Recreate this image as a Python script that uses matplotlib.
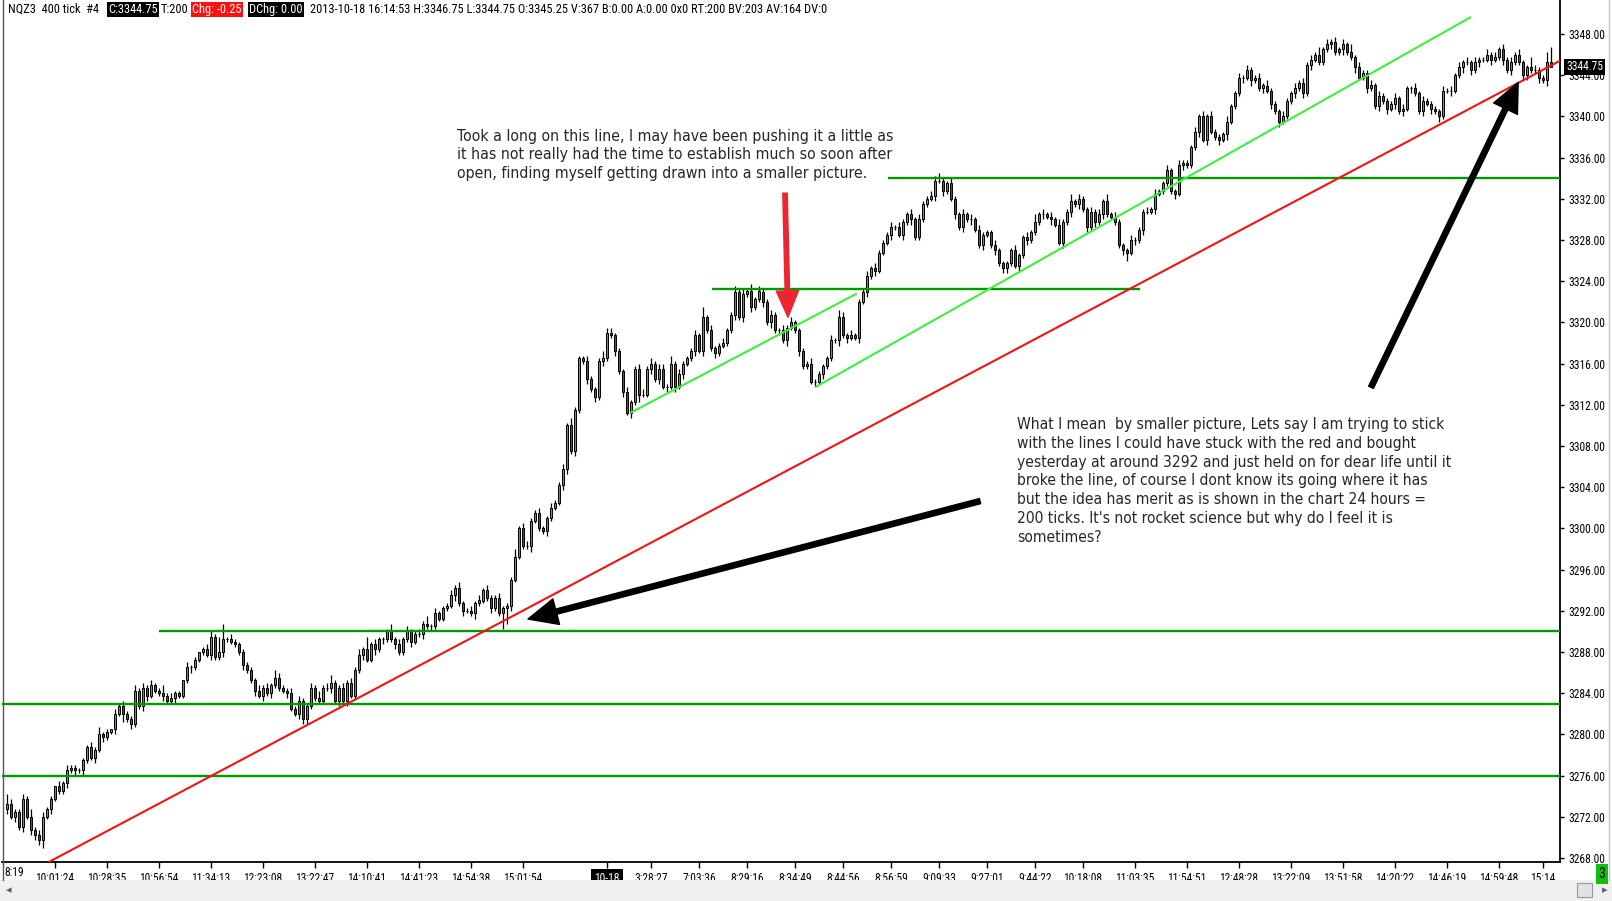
import matplotlib
matplotlib.use('Agg')
import matplotlib.pyplot as plt
from matplotlib import font_manager as fm
from matplotlib.patches import Rectangle
from matplotlib.lines import Line2D
import numpy as np

W, H, DPI = 1612, 901, 100

# ---------------- data ----------------
first_open = 3272.75
closes = [
    3273.25, 3272.0, 3272.5, 3271.0, 3273.75, 3272.0, 3270.75, 3270.25, 3269.75, 3272.0,
    3272.75, 3273.75, 3275.0, 3274.5, 3275.25, 3276.5, 3276.75, 3276.5, 3276.5, 3277.5,
    3278.75, 3277.75, 3278.5, 3280.0, 3279.75, 3280.25, 3280.5, 3282.0, 3282.75, 3282.0,
    3281.5, 3281.0, 3284.25, 3282.75, 3284.5, 3283.75, 3284.75, 3284.25, 3284.0, 3283.75,
    3283.25, 3283.5, 3284.0, 3283.75, 3285.25, 3286.5, 3286.5, 3287.25, 3288.0, 3288.25,
    3287.75, 3289.5, 3287.5, 3288.0, 3289.25, 3289.25, 3289.0, 3288.75, 3288.0, 3286.75,
    3286.25, 3285.25, 3284.25, 3283.75, 3284.5, 3284.0, 3284.75, 3285.5, 3284.5, 3284.25,
    3284.0, 3282.5, 3282.0, 3283.25, 3281.5, 3282.75, 3284.5, 3283.5, 3283.25, 3284.5,
    3284.5, 3285.0, 3283.25, 3284.5, 3283.25, 3285.0, 3283.75, 3286.25, 3287.75, 3288.25,
    3287.25, 3288.75, 3288.25, 3289.25, 3289.25, 3290.0, 3289.25, 3288.75, 3288.0, 3289.25,
    3290.0, 3289.0, 3289.75, 3289.75, 3290.75, 3290.5, 3290.5, 3291.75, 3291.25, 3292.25,
    3292.5, 3293.5, 3294.25, 3292.75, 3292.0, 3292.0, 3291.75, 3292.75, 3293.0, 3294.0,
    3293.25, 3292.25, 3293.25, 3291.75, 3292.25, 3292.5, 3295.0, 3297.25, 3300.0, 3298.25,
    3298.25, 3300.75, 3301.5, 3300.0, 3299.75, 3301.0, 3302.0, 3302.5, 3304.25, 3305.75,
    3310.0, 3307.5, 3311.5, 3316.5, 3316.25, 3314.5, 3313.5, 3312.75, 3316.25, 3316.5,
    3319.0, 3318.75, 3317.25, 3315.25, 3313.25, 3311.25, 3312.25, 3315.5, 3313.0, 3313.0,
    3315.5, 3316.0, 3314.5, 3315.5, 3313.75, 3313.75, 3316.0, 3313.75, 3315.0, 3316.0,
    3316.5, 3317.25, 3318.75, 3317.25, 3320.5, 3319.25, 3317.5, 3317.0, 3317.75, 3318.0,
    3319.25, 3320.75, 3323.0, 3320.5, 3322.75, 3323.0, 3321.5, 3322.25, 3323.0, 3322.0,
    3320.0, 3320.75, 3319.25, 3319.25, 3318.25, 3319.5, 3320.0, 3319.25, 3317.25, 3315.75,
    3316.0, 3314.25, 3314.25, 3315.0, 3315.75, 3316.5, 3318.25, 3318.25, 3320.5, 3318.75,
    3318.5, 3318.75, 3318.5, 3322.0, 3323.0, 3324.5, 3325.25, 3325.0, 3326.75, 3327.75,
    3328.5, 3329.25, 3329.25, 3328.5, 3329.75, 3330.5, 3330.0, 3328.25, 3330.0, 3331.5,
    3332.0, 3332.25, 3333.75, 3333.75, 3332.75, 3333.5, 3332.0, 3330.5, 3329.25, 3330.5,
    3330.0, 3330.0, 3329.0, 3327.5, 3328.5, 3328.75, 3327.5, 3327.0, 3325.75, 3325.25,
    3325.75, 3327.0, 3325.5, 3326.5, 3328.25, 3328.0, 3328.75, 3329.75, 3330.5, 3330.5,
    3330.25, 3330.0, 3329.5, 3327.75, 3329.75, 3330.75, 3331.75, 3331.5, 3332.0, 3331.0,
    3329.25, 3330.75, 3329.75, 3330.5, 3331.75, 3330.5, 3330.25, 3329.75, 3327.5, 3327.0,
    3326.75, 3328.0, 3328.0, 3329.0, 3330.75, 3330.75, 3331.0, 3332.5, 3332.75, 3333.5,
    3334.75, 3332.75, 3332.5, 3335.25, 3335.5, 3335.25, 3337.0, 3338.5, 3340.0, 3337.75,
    3340.0, 3338.5, 3338.0, 3337.75, 3338.25, 3339.5, 3341.0, 3342.25, 3343.75, 3343.75,
    3344.5, 3343.5, 3343.75, 3342.75, 3343.0, 3342.5, 3341.25, 3340.5, 3339.5, 3340.0,
    3341.5, 3342.25, 3342.75, 3343.25, 3342.25, 3345.0, 3345.5, 3346.0, 3345.25, 3346.5,
    3347.0, 3347.25, 3346.25, 3346.5, 3347.0, 3346.25, 3345.75, 3344.75, 3343.75, 3344.25,
    3342.75, 3343.0, 3341.0, 3342.0, 3341.5, 3340.75, 3341.25, 3341.75, 3340.5, 3340.75,
    3342.75, 3342.75, 3342.25, 3340.5, 3341.5, 3341.25, 3340.75, 3340.5, 3340.0, 3342.5,
    3342.5, 3342.5, 3344.0, 3344.75, 3345.25, 3345.25, 3344.5, 3345.25, 3345.5, 3345.5,
    3346.0, 3345.5, 3345.75, 3346.5, 3345.5, 3344.5, 3345.25, 3346.0, 3345.25, 3344.0,
    3344.75, 3344.5, 3344.5, 3343.75, 3343.5, 3345.25, 3344.75,
]
# wick lengths in ticks (0.25) above / below the body, ten bars per chunk
upper_wick_ticks = [
    "4211213122", "1102121111", "1213110212", "1121212113", "1211021101",
    "2216612111", "1112121321", "1212112131", "2311212121", "5121113121",
    "2112131211", "1212112121", "2112111312", "2112112112", "1311121113",
    "2211121122", "1212213121", "1121412112", "1121213121", "1211212111",
    "1211112132", "1211121211", "1212112121", "1223112112", "1212111211",
    "1121121312", "1212113121", "1212131211", "1211121211", "2112111212",
    "1211121121", "2112121112", "1121212131", "2121213121", "1212111212",
    "1121211112", "1212121211", "2121212121", "1421146",
]
lower_wick_ticks = [
    "2121212223", "1211121212", "1121211213", "1211221112", "1121112111",
    "1211211112", "1121212111", "2112221111", "1212121112", "1121211211",
    "1211212111", "1121211211", "1211662111", "1211121112", "2121121212",
    "1121212131", "1212121212", "1121211211", "1121212112", "1212121121",
    "1121211121", "2112121211", "1211212111", "1121211212", "1211211212",
    "2112121112", "1211212121", "2121211112", "3121211211", "1121211121",
    "2112121112", "1211212121", "1121212111", "1211211211", "2112121212",
    "1211212121", "1211212121", "1211212112", "2112120",
]
tick_bars = [12, 25, 38, 51, 64, 77, 90, 103, 116, 129, 150, 161, 173, 185, 197,
             209, 221, 233, 245, 257, 269, 282, 295, 308, 321, 334, 347, 360, 373, 384]
tick_labels = ["10:01:24", "10:28:35", "10:56:54", "11:34:13", "12:23:08", "13:22:47",
               "14:10:41", "14:41:23", "14:54:38", "15:01:54", "10-18", "3:28:27",
               "7:03:36", "8:29:16", "8:34:49", "8:44:56", "8:56:59", "9:09:33",
               "9:27:01", "9:44:22", "10:18:08", "11:03:35", "11:54:51", "12:48:28",
               "13:22:09", "13:51:58", "14:20:22", "14:46:19", "14:59:48", "15:14"]
price_ticks = list(range(3268, 3349, 4))
# horizontal support / resistance levels: price, start bar, end bar
level_prices = [3276.0, 3283.0, 3290.0, 3323.25, 3334.0]
level_starts = [-1.25, -1.25, 38.0, 176.25, 220.25]
level_ends = [388.25, 388.25, 388.25, 283.25, 388.25]
# trend lines (bar, price) endpoints
red_trend_bars = [10.4, 388.25]
red_trend_prices = [3267.6, 3345.4]
lime1_bars = [156.0, 212.2]
lime1_prices = [3311.25, 3322.75]
lime2_bars = [202.25, 365.75]
lime2_prices = [3313.75, 3349.6]
# arrows: tail (bar, price) -> tip (bar, price)
black_arrow_tails = [(243.25, 3302.65), (341.0, 3313.7)]
black_arrow_tips = [(130.25, 3291.2), (377.8, 3343.3)]
red_arrow_tail = (194.5, 3332.55)
red_arrow_tip = (195.25, 3320.5)
last_price = "3344.75"

note1 = ["Took a long on this line, I may have been pushing it a little as",
         "it has not really had the time to establish much so soon after",
         "open, finding myself getting drawn into a smaller picture."]
note2 = ["What I mean  by smaller picture, Lets say I am trying to stick",
         "with the lines I could have stuck with the red and bought",
         "yesterday at around 3292 and just held on for dear life until it",
         "broke the line, of course I dont know its going where it has",
         "but the idea has merit as is shown in the chart 24 hours =",
         "200 ticks. It's not rocket science but why do I feel it is",
         "sometimes?"]

# ---------------- fonts ----------------
def find_condensed(prefs):
    """Return path of an installed narrow/condensed regular sans face, or None."""
    found = {}
    for f in fm.fontManager.ttflist:
        name = f.name.lower()
        stretch = str(f.stretch).lower()
        is_narrow = ('narrow' in name or 'condensed' in name or
                     stretch in ('condensed', 'semi-condensed', 'extra-condensed'))
        w = f.weight
        regular = (w in (400, 'normal', 'regular', 'book')) and f.style == 'normal'
        if is_narrow and regular:
            found.setdefault(name, f.fname)
    for p in prefs:
        for name, path in found.items():
            if p in name:
                return path
    return None

narrow_path = find_condensed(['liberation sans narrow', 'roboto condensed', 'open sans condensed',
                              'noto sans condensed', 'noto sans', 'dejavu sans condensed',
                              'dejavu sans', 'condensed', 'narrow'])
note_path = find_condensed(['dejavu sans condensed', 'dejavu sans'])

def fprop(path, fallback):
    if path:
        return fm.FontProperties(fname=path)
    return fm.FontProperties(family=fallback)

NARROW_FP = fprop(narrow_path, 'DejaVu Sans')
NOTE_FP = fprop(note_path, 'DejaVu Sans')

def sized(fp, s, weight=None):
    q = fp.copy()
    q.set_size(s)
    if weight:
        q.set_weight(weight)
    return q

# ---------------- derived OHLC ----------------
N = len(closes)
def ticks_list(chunks):
    s = "".join(chunks)
    v = [int(ch) for ch in s][:N]
    v += [1] * (N - len(v))
    return np.array(v)

c = np.array(closes)
o = np.concatenate([[first_open], c[:-1]])
up = ticks_list(upper_wick_ticks)
lo = ticks_list(lower_wick_ticks)
hi = np.maximum(o, c) + 0.25 * up
lw_ = np.minimum(o, c) - 0.25 * lo
x = np.arange(N)

# ---------------- figure ----------------
fig = plt.figure(figsize=(W / DPI, H / DPI), dpi=DPI)
fig.patch.set_facecolor('white')
renderer = fig.canvas.get_renderer()

def px(xp, yp):
    return xp / W, 1 - yp / H

def fit_size(text, fp, target_px, base=10.0):
    t = fig.text(0, 0, text, fontproperties=sized(fp, base))
    w = t.get_window_extent(renderer).width
    t.remove()
    return base * target_px / w

AX_L, AX_R, AX_B, AX_T = 2, 1560, 862, 0
ax = fig.add_axes([AX_L / W, (H - AX_B) / H, (AX_R - AX_L) / W, (AX_B - AX_T) / H])
ax.set_facecolor('white')
ax.set_xlim(-1.25, 388.25)
ax.set_ylim(3348 - (AX_B - 34) / 10.3, 3348 + (34 - AX_T) / 10.3)

for s in ['top', 'left']:
    ax.spines[s].set_visible(False)
for s in ['right', 'bottom']:
    ax.spines[s].set_color('black')
    ax.spines[s].set_linewidth(1.3)

# candles
GREEN, RED = '#22c322', '#c81e1e'
cols = [GREEN if cc > oo else (RED if cc < oo else 'black') for oo, cc in zip(o, c)]
ax.vlines(x, lw_, hi, color='black', lw=0.9, zorder=3)
ax.bar(x, np.abs(c - o), width=0.62, bottom=np.minimum(o, c), color=cols,
       edgecolor='black', linewidth=0.7, zorder=4)

# levels
for p, a, b in zip(level_prices, level_starts, level_ends):
    ax.plot([a, b], [p, p], color='#009a00', lw=1.7, zorder=5, solid_capstyle='butt')
ax.plot(lime1_bars, lime1_prices, color='#3cf03c', lw=1.5, zorder=5)
ax.plot(lime2_bars, lime2_prices, color='#3cf03c', lw=1.5, zorder=5)
ax.plot(red_trend_bars, red_trend_prices, color='#f01414', lw=1.5, zorder=5)

# arrows
for tail, tip in zip(black_arrow_tails, black_arrow_tips):
    ax.annotate('', xy=tip, xytext=tail, zorder=7,
                arrowprops=dict(arrowstyle='simple,head_length=1.05,head_width=0.95,tail_width=0.19',
                                mutation_scale=20, color='black', shrinkA=0, shrinkB=0))
ax.annotate('', xy=red_arrow_tip, xytext=red_arrow_tail, zorder=7,
            arrowprops=dict(arrowstyle='simple,head_length=0.95,head_width=0.8,tail_width=0.16',
                            mutation_scale=20, color='#ec2530', shrinkA=0, shrinkB=0))

# axis ticks
tick_fs = fit_size("3348.00", NARROW_FP, 37)
time_fs = fit_size("10:01:24", NARROW_FP, 39)
ax.yaxis.tick_right()
ax.set_yticks(price_ticks)
ax.set_yticklabels([f"{v:.2f}" for v in price_ticks])
ax.tick_params(axis='y', direction='out', length=3, width=1, pad=3, colors='black')
for lab in ax.get_yticklabels():
    lab.set_fontproperties(sized(NARROW_FP, tick_fs))
ax.set_xticks(tick_bars)
ax.set_xticklabels(tick_labels)
ax.tick_params(axis='x', direction='out', length=4, width=1, pad=3, colors='black')
for lab in ax.get_xticklabels():
    lab.set_fontproperties(sized(NARROW_FP, time_fs))
    if lab.get_text() == "10-18":
        lab.set_color('white')
        lab.set_bbox(dict(boxstyle='square,pad=0.25', fc='black', ec='none'))

# notes
n1 = fit_size(note1[0], NOTE_FP, 436)
n2 = fit_size(note2[0], NOTE_FP, 428)
for i, line in enumerate(note1):
    fig.text(*px(457, 141 + 18.4 * i), line, fontproperties=sized(NOTE_FP, n1),
             color='#262626', ha='left', va='baseline', zorder=8)
for i, line in enumerate(note2):
    fig.text(*px(1017, 429 + 18.8 * i), line, fontproperties=sized(NOTE_FP, n2),
             color='#262626', ha='left', va='baseline', zorder=8)

# header
hdr_rest = ("2013-10-18 16:14:53 H:3346.75 L:3344.75 O:3345.25 V:367 B:0.00 A:0.00 0x0 "
            "RT:200 BV:203 AV:164 DV:0")
hfs = fit_size("2013-10-18 16:14:53 H:3346.75 L:3344.75 O:3345.25 V:367 B:0.00 A:0.00 0x0 "
               "RT:200 BV:203 AV:164", NARROW_FP, 488)
hy = 13
pieces = [(8, "NQZ3  400 tick  #4", None), (108, "C:3344.75", 'black'), (161, "T:200", None),
          (192, "Chg: -0.25", '#ff1010'), (249, "DChg: 0.00", 'black'), (310, hdr_rest, None)]
for xp, s, bg in pieces:
    kw = {}
    if bg is not None:
        kw['bbox'] = dict(boxstyle='square,pad=0.12', fc=bg, ec='none')
    fig.text(*px(xp, hy), s, fontproperties=sized(NARROW_FP, hfs), ha='left', va='baseline',
             color='white' if bg else 'black', zorder=9, **kw)

# last price box
fig.text(*px(1566, 67), last_price, fontproperties=sized(NARROW_FP, tick_fs, 'bold'),
         color='white', ha='left', va='center', zorder=9,
         bbox=dict(boxstyle='square,pad=0.15', fc='black', ec='none'))

# left clipped time label
fig.text(*px(4, 873), "8:19", fontproperties=sized(NARROW_FP, time_fs), ha='left', va='center')

# frame / scrollbar decorations
fig.add_artist(Line2D([2.5 / W, 2.5 / W], [1 - 880 / H, 1], color='#555555', lw=1.0))
fig.add_artist(Line2D([1609 / W, 1609 / W], [1 - 880 / H, 1], color='#c8c8c8', lw=1.0))
fig.add_artist(Rectangle((0, 0), 1, 21 / H, transform=fig.transFigure, fc='#f0f0f0',
                         ec='none'))
fig.add_artist(Rectangle((1577 / W, 1 - 897 / H), 15 / W, 14 / H, transform=fig.transFigure,
                         fc='#e2e2e2', ec='#9a9a9a', lw=0.8))
fig.text(*px(9, 890), "\u25c2", fontsize=8, color='#606060', ha='center', va='center')
fig.text(*px(1605, 890), "\u25b8", fontsize=8, color='#606060', ha='center', va='center')
fig.text(*px(1602, 874), "3", fontproperties=sized(NARROW_FP, time_fs * 1.2), color='black',
         ha='center', va='center',
         bbox=dict(boxstyle='square,pad=0.2', fc='#10c010', ec='none'))

fig.savefig('out.png', dpi=DPI, facecolor='white')
